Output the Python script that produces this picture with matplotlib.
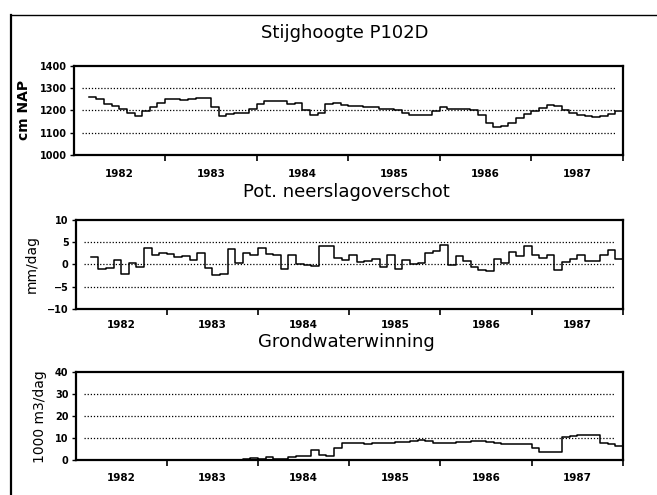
import numpy as np
import matplotlib
matplotlib.use("Agg")
import matplotlib.pyplot as plt
from matplotlib.lines import Line2D

# monthly values, March 1982 .. December 1987
start_month = 2  # months after Jan 1982
stijghoogte = [1262, 1250, 1228, 1220, 1205, 1190, 1175, 1195, 1217, 1235,
               1250, 1250, 1248, 1250, 1255, 1255, 1217, 1175, 1183, 1190, 1190, 1208,
               1230, 1240, 1242, 1240, 1228, 1235, 1202, 1178, 1187, 1229, 1232, 1226,
               1220, 1218, 1214, 1217, 1208, 1205, 1200, 1187, 1180, 1178, 1181, 1196,
               1217, 1208, 1205, 1208, 1202, 1181, 1143, 1124, 1131, 1145, 1165, 1185,
               1195, 1212, 1225, 1218, 1200, 1190, 1180, 1175, 1172, 1175, 1185, 1198]
neerslag = [1.6, -1.1, -0.8, 1.0, -2.2, 0.2, -0.7, 3.6, 2.0, 2.5,
            2.3, 1.6, 1.9, 1.0, 2.5, -0.9, -2.3, -2.1, 3.4, 0.2, 2.5, 2.0,
            3.6, 2.3, 2.0, -1.0, 2.0, 0.0, -0.2, -0.3, 4.2, 4.2, 1.5, 1.0,
            2.2, 0.5, 0.8, 1.2, -0.5, 2.0, -1.0, 1.0, 0.0, 0.3, 2.5, 3.0,
            4.3, -0.1, 1.8, 0.8, -0.5, -1.2, -1.5, 1.2, 0.3, 2.8, 1.8, 4.2,
            2.0, 1.5, 2.0, -1.2, 0.5, 1.2, 2.2, 0.7, 0.7, 2.1, 3.2, 1.2]
winning = [0, 0, 0, 0, 0, 0, 0, 0, 0, 0,
           0, 0, 0, 0, 0, 0, 0, 0, 0, 0, 0.8, 1.0,
           0.5, 1.5, 0.6, 0.6, 1.6, 1.8, 2.0, 4.5, 2.5, 2.2, 5.5, 7.8,
           7.8, 7.8, 7.6, 7.7, 7.8, 8.0, 8.2, 8.5, 8.7, 9.2, 9.0, 8.0,
           8.0, 8.0, 8.2, 8.5, 8.7, 8.7, 8.5, 8.0, 7.6, 7.6, 7.6, 7.6,
           5.5, 3.6, 3.6, 3.6, 10.5, 11.2, 11.5, 11.5, 11.5, 7.8, 7.5, 6.5]
years = [1982, 1983, 1984, 1985, 1986, 1987]

panels = [
    ("Stijghoogte P102D", "cm NAP", stijghoogte, (1000, 1400), [1000, 1100, 1200, 1300, 1400], [1100, 1200, 1300], "bold"),
    ("Pot. neerslagoverschot", "mm/dag", neerslag, (-10, 10), [-10, -5, 0, 5, 10], [-5, 0, 5], "normal"),
    ("Grondwaterwinning", "1000 m3/dag", winning, (0, 40), [0, 10, 20, 30, 40], [10, 20, 30], "normal"),
]
positions = [
    [0.112, 0.687, 0.836, 0.180],
    [0.115, 0.376, 0.833, 0.180],
    [0.115, 0.070, 0.833, 0.178],
]
title_y = [0.933, 0.613, 0.31]
label_pad = [10, 8, 9]

fig = plt.figure(figsize=(6.57, 4.95), dpi=100)

# outer frame of the scanned page
fig.add_artist(Line2D([0.016, 0.016], [0.0, 0.970], color="black", lw=1.6, transform=fig.transFigure))
fig.add_artist(Line2D([0.016, 1.0], [0.970, 0.970], color="black", lw=1.0, transform=fig.transFigure))

for (title, ylabel, vals, ylim, yticks, grid, ylw), pos, ty, lp in zip(panels, positions, title_y, label_pad):
    ax = fig.add_axes(pos)
    x = 1982 + (start_month + np.arange(len(vals) + 1)) / 12
    y = list(vals) + [vals[-1]]
    ax.step(x, y, where="post", color="black", lw=1.1)
    for g in grid:
        ax.axhline(g, xmin=0.015, xmax=0.985, color="black", lw=0.9, ls=(0, (1, 1.5)))
    ax.set_xlim(1982, 1988)
    ax.set_ylim(*ylim)
    ax.set_yticks(yticks)
    ax.set_yticklabels([str(t).replace("-", "\u2212") for t in yticks], fontsize=7, fontweight="bold")
    ax.set_xticks(years[1:] + [1988])
    ax.set_xticklabels([])
    ax.set_xticks([yr + 0.5 for yr in years], minor=True)
    ax.set_xticklabels([str(yr) for yr in years], minor=True, fontsize=7.5, fontweight="bold")
    ax.tick_params(axis="x", which="minor", length=0, pad=lp)
    ax.tick_params(axis="x", which="major", direction="out", length=4, width=1.2)
    ax.tick_params(axis="y", direction="out", length=3, width=1, pad=2)
    for s in ax.spines.values():
        s.set_linewidth(1.6)
    ax.set_ylabel(ylabel, fontsize=10, fontweight=ylw, labelpad=6)
    fig.text(pos[0] + pos[2] / 2 - 0.005, ty, title, ha="center", va="center", fontsize=13)

fig.savefig("out.png", dpi=100)
